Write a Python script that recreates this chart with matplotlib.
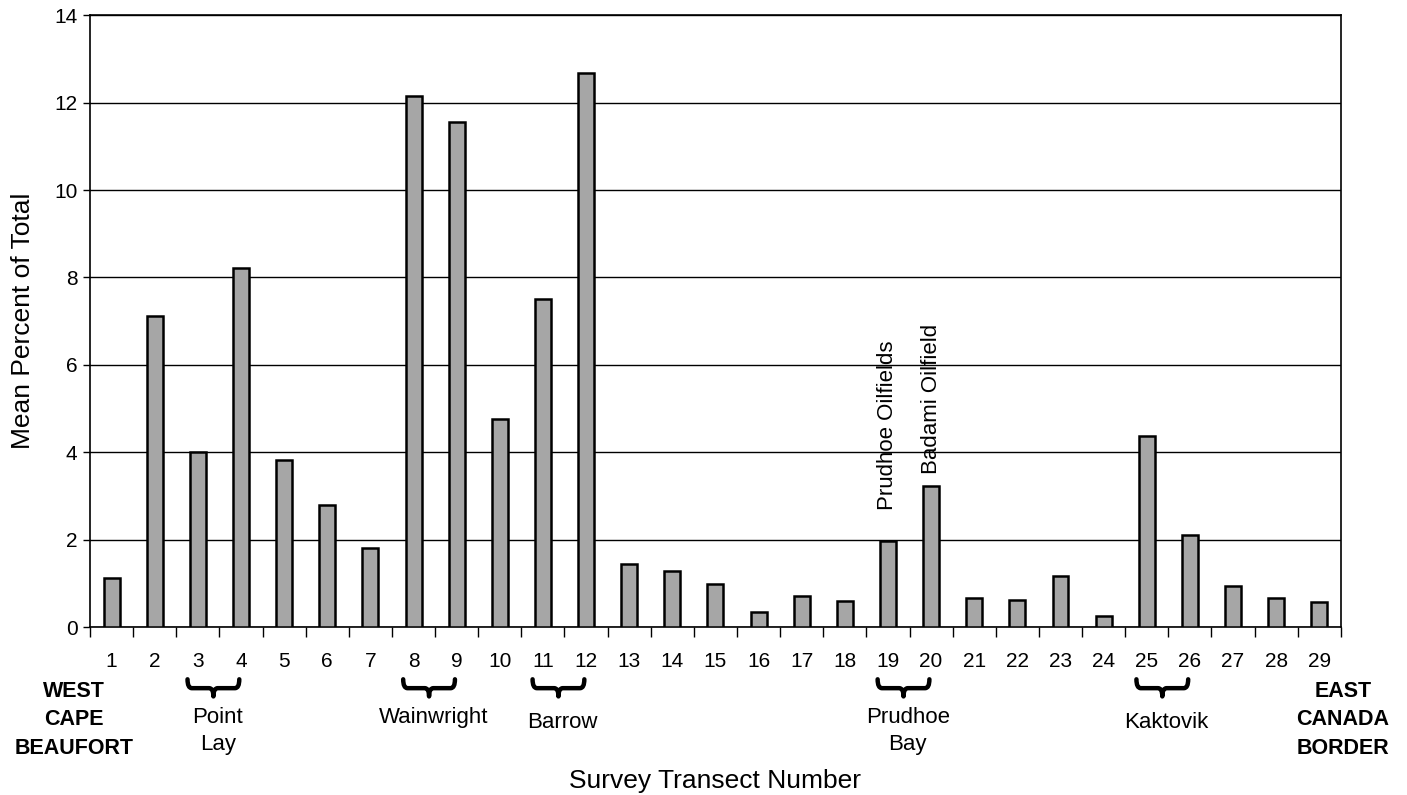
import numpy as np
import matplotlib
matplotlib.use('Agg')
import matplotlib.pyplot as plt
from matplotlib.path import Path
from matplotlib.patches import PathPatch
import matplotlib.transforms as mtransforms

plt.rcParams['font.family'] = ['Liberation Sans', 'DejaVu Sans']

transects = list(range(1, 30))
mean_pct = [1.12, 7.12, 4.0, 8.22, 3.82, 2.8, 1.82, 12.14, 11.55, 4.77,
            7.5, 12.68, 1.45, 1.28, 0.99, 0.35, 0.72, 0.6, 1.98, 3.23,
            0.67, 0.63, 1.18, 0.25, 4.37, 2.1, 0.95, 0.67, 0.57]

# communities spanning pairs of transects
places = [(3, 4, 'Point\nLay'), (8, 9, 'Wainwright'), (11, 12, 'Barrow'),
          (19, 20, 'Prudhoe\nBay'), (25, 26, 'Kaktovik')]
place_drop = {'Barrow': 0.009, 'Kaktovik': 0.009}
oilfields = [(19, 'Prudhoe Oilfields', 0.7), (20, 'Badami Oilfield', 0.27)]

fig = plt.figure(figsize=(14.07, 7.95), dpi=100)
ax = fig.add_axes([0.064, 0.211, 0.889, 0.770])

ax.set_axisbelow(True)
ax.yaxis.grid(True, color='black', linewidth=1.0)
ax.bar(transects, mean_pct, width=0.37, color='#a6a6a6',
       edgecolor='black', linewidth=1.8, zorder=3)

ax.set_xlim(0.5, 29.5)
ax.set_ylim(0, 14)
ax.set_yticks(range(0, 15, 2))
ax.set_xticks(transects)
ax.set_xticks(np.arange(0.5, 30, 1), minor=True)
ax.tick_params(axis='x', which='major', length=0, pad=18, labelsize=15)
ax.tick_params(axis='x', which='minor', length=7, width=1, direction='out')
ax.tick_params(axis='y', length=5, width=1, labelsize=15, pad=4)
for s in ax.spines.values():
    s.set_linewidth(1.2)

ax.set_ylabel('Mean Percent of Total', fontsize=19)
ax.yaxis.set_label_coords(-0.044, 0.5)
ax.set_xlabel('Survey Transect Number', fontsize=19, va='top')
ax.xaxis.set_label_coords(0.5, -0.232)

# oilfield labels over bars
for t, name, gap in oilfields:
    ax.text(t, mean_pct[t - 1] + gap, name, rotation=90, ha='center',
            va='bottom', fontsize=16)

# braces under pairs of transects
trans = mtransforms.blended_transform_factory(ax.transData, ax.transAxes)
y0, ym, yt = -0.085, -0.0995, -0.113
for a, b, name in places:
    c = (a + b) / 2 - 0.14
    h = 0.6
    verts = [(c - h, y0),
             (c - h, ym), (c - h + 0.1, ym),
             (c - 0.1, ym),
             (c, ym), (c, yt),
             (c, ym), (c + 0.1, ym),
             (c + h - 0.1, ym),
             (c + h, ym), (c + h, y0)]
    codes = [Path.MOVETO,
             Path.CURVE3, Path.CURVE3,
             Path.LINETO,
             Path.CURVE3, Path.CURVE3,
             Path.CURVE3, Path.CURVE3,
             Path.LINETO,
             Path.CURVE3, Path.CURVE3]
    ax.add_patch(PathPatch(Path(verts, codes), transform=trans, fill=False,
                           linewidth=3.2, edgecolor='black', clip_on=False,
                           capstyle='round', joinstyle='round'))
    ax.text(c + 0.1, -0.13 - place_drop.get(name, 0), name, transform=trans,
            ha='center', va='top', fontsize=16, linespacing=1.4)

ax.text(-0.0128, -0.088, 'WEST\nCAPE\nBEAUFORT', transform=ax.transAxes,
        ha='center', va='top', fontsize=15.5, fontweight='bold', linespacing=1.45)
ax.text(1.0015, -0.088, 'EAST\nCANADA\nBORDER', transform=ax.transAxes,
        ha='center', va='top', fontsize=15.5, fontweight='bold', linespacing=1.45)

fig.savefig('out.png', dpi=100)
